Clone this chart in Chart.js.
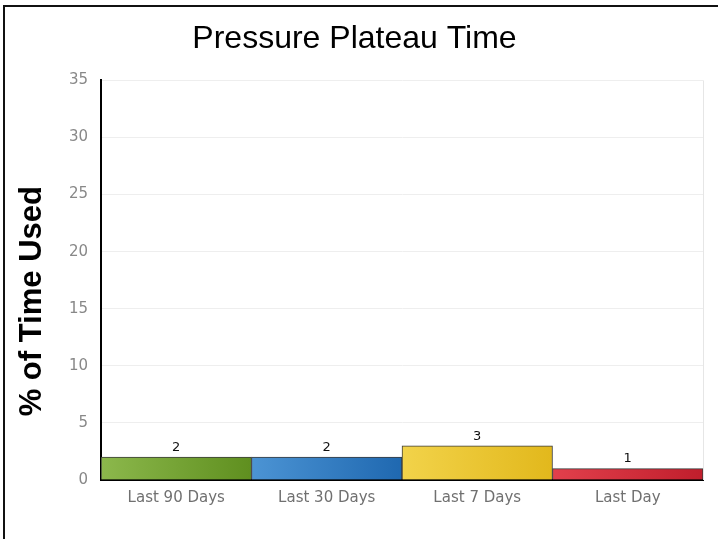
<!DOCTYPE html>
<html>
<head>
<meta charset="utf-8">
<script src="https://cdn.jsdelivr.net/npm/chart.js@4"></script>
<style>
  body { margin: 0; background: #fff; }
  #wrap { position: relative; width: 718px; height: 539px; }
  #wrap .edgeL { position: absolute; left: 3px; top: 5px; width: 2px; height: 534px; background: #111; }
  #wrap .edgeT { position: absolute; left: 3px; top: 5px; width: 715px; height: 2px; background: #111; }
</style>
</head>
<body>
<div id="wrap">
  <canvas id="plateauChart" width="718" height="539"></canvas>
  <div class="edgeL"></div>
  <div class="edgeT"></div>
</div>
<script>
const periods = ['Last 90 Days', 'Last 30 Days', 'Last 7 Days', 'Last Day'];
const timeUsed = [2, 2, 3, 1];
const yTicks = [0, 5, 10, 15, 20, 25, 30, 35];
const yTitle = '% of Time Used';

// left -> right colour stops for each bar
const barShades = [
    ['#8cb84c', '#5f8f1f'],
    ['#4c94d4', '#1f68b0'],
    ['#f2d34a', '#e2b81c'],
    ['#e2404c', '#c01e2c']
];

function barFill(context) {
    const chart = context.chart;
    const shade = barShades[context.dataIndex];
    const xs = chart.scales.x;
    const area = chart.chartArea;
    if (!xs || !area) return shade[0];
    const cx = xs.getPixelForValue(context.dataIndex);
    const half = (area.right - area.left) / periods.length / 2;
    if (!isFinite(cx) || !isFinite(half) || half <= 0) return shade[0];
    const g = chart.ctx.createLinearGradient(cx - half, 0, cx + half, 0);
    g.addColorStop(0, shade[0]);
    g.addColorStop(1, shade[1]);
    return g;
}

const valueLabels = {
    id: 'valueLabels',
    afterDatasetsDraw(chart) {
        const ctx = chart.ctx;
        const area = chart.chartArea;
        ctx.save();
        // light frame line on the right side of the plot
        ctx.strokeStyle = '#e6e6e6';
        ctx.lineWidth = 1;
        ctx.beginPath();
        ctx.moveTo(area.right + 0.5, area.top);
        ctx.lineTo(area.right + 0.5, area.bottom);
        ctx.stroke();

        ctx.fillStyle = '#111';
        ctx.font = '13px "DejaVu Sans"';
        ctx.textAlign = 'center';
        ctx.textBaseline = 'bottom';
        chart.getDatasetMeta(0).data.forEach((bar, i) => {
            ctx.fillText(timeUsed[i], bar.x, bar.y - 3);
        });

        // y axis title, sits a bit below the plot centre in the original
        ctx.translate(32, (area.top + area.bottom) / 2 + 21);
        ctx.rotate(-Math.PI / 2);
        ctx.fillStyle = '#000';
        ctx.font = 'bold 31px "Liberation Sans", Arial';
        ctx.textBaseline = 'middle';
        ctx.fillText(yTitle, 0, 0);
        ctx.restore();
    }
};

const ctx = document.getElementById('plateauChart').getContext('2d');
const plateauChart = new Chart(ctx, {
    type: 'bar',
    data: {
        labels: periods,
        datasets: [{
            data: timeUsed,
            backgroundColor: barFill,
            borderColor: '#3a3a3a',
            borderWidth: 1,
            borderSkipped: 'bottom',
            categoryPercentage: 1.0,
            barPercentage: 1.0
        }]
    },
    options: {
        responsive: false,
        animation: false,
        layout: {
            padding: { top: 0, right: 15, bottom: 0, left: 6 }
        },
        plugins: {
            legend: { display: false },
            tooltip: { enabled: false },
            title: {
                display: true,
                text: 'Pressure Plateau Time',
                color: '#000',
                font: { size: 32, family: '"Liberation Sans", Arial', weight: 'normal' },
                padding: { top: 20, bottom: 22 }
            }
        },
        scales: {
            x: {
                grid: { display: false, drawTicks: false },
                border: { color: '#000', width: 2 },
                ticks: {
                    color: '#707070',
                    padding: 9,
                    font: { size: 15, family: '"DejaVu Sans"' }
                },
                afterFit(scale) { scale.height = 59; }
            },
            y: {
                min: 0,
                max: 35,
                afterBuildTicks(scale) {
                    scale.ticks = yTicks.map(v => ({ value: v }));
                },
                grid: { color: '#eeeeee', drawTicks: false },
                border: { color: '#000', width: 2 },
                ticks: {
                    color: '#888',
                    padding: 13,
                    font: { size: 15, family: '"DejaVu Sans"' }
                },
                afterFit(scale) { scale.width = 95; }
            }
        }
    },
    plugins: [valueLabels]
});
</script>
</body>
</html>
